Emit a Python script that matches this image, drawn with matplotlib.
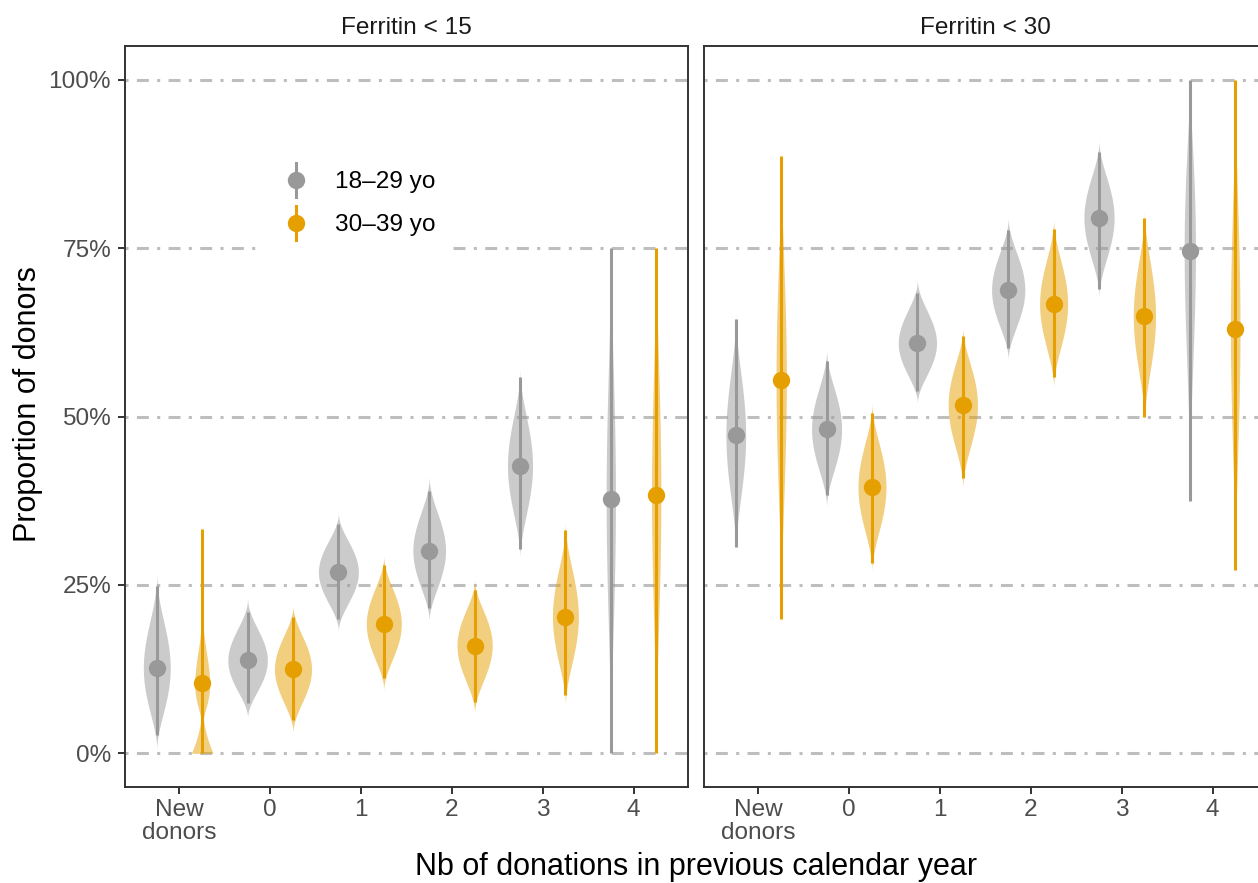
import math
import numpy as np
import matplotlib
matplotlib.use("Agg")
import matplotlib.pyplot as plt
from matplotlib.lines import Line2D
from matplotlib.legend_handler import HandlerBase

plt.rcParams["font.family"] = ["Liberation Sans", "DejaVu Sans"]
plt.rcParams["lines.scale_dashes"] = False

# ---- data (proportions) ----
categories = ["New\ndonors", "0", "1", "2", "3", "4"]
panels = ["Ferritin < 15", "Ferritin < 30"]
groups = ["18–29 yo", "30–39 yo"]

# Ferritin < 15, 18-29 yo
f15_young_est = [0.127, 0.138, 0.269, 0.301, 0.427, 0.378]
f15_young_lo = [0.027, 0.074, 0.200, 0.215, 0.304, 0.000]
f15_young_hi = [0.249, 0.210, 0.341, 0.390, 0.559, 0.750]
f15_young_vlo = [0.005, 0.052, 0.180, 0.195, 0.288, 0.000]
f15_young_vhi = [0.270, 0.232, 0.358, 0.413, 0.572, 0.760]

# Ferritin < 15, 30-39 yo
f15_old_est = [0.104, 0.125, 0.192, 0.160, 0.203, 0.384]
f15_old_lo = [0.000, 0.049, 0.112, 0.076, 0.086, 0.000]
f15_old_hi = [0.333, 0.203, 0.279, 0.242, 0.332, 0.750]
f15_old_vlo = [0.050, 0.029, 0.092, 0.057, 0.070, 0.000]
f15_old_vhi = [0.235, 0.221, 0.295, 0.259, 0.345, 0.760]

# Ferritin < 30, 18-29 yo
f30_young_est = [0.472, 0.481, 0.609, 0.688, 0.795, 0.746]
f30_young_lo = [0.307, 0.383, 0.538, 0.601, 0.690, 0.374]
f30_young_hi = [0.645, 0.583, 0.683, 0.777, 0.892, 1.000]
f30_young_vlo = [0.295, 0.364, 0.519, 0.583, 0.675, 0.360]
f30_young_vhi = [0.655, 0.601, 0.705, 0.797, 0.911, 1.000]

# Ferritin < 30, 30-39 yo
f30_old_est = [0.554, 0.395, 0.517, 0.667, 0.649, 0.630]
f30_old_lo = [0.199, 0.282, 0.409, 0.559, 0.500, 0.272]
f30_old_hi = [0.887, 0.505, 0.620, 0.778, 0.794, 1.000]
f30_old_vlo = [0.200, 0.268, 0.390, 0.541, 0.487, 0.260]
f30_old_vhi = [0.890, 0.522, 0.633, 0.795, 0.807, 1.000]

# share of the main lobe, and extra lobe piled at 0 (weight, height)
f15_old_main = [0.36, 1, 1, 1, 1, 1]
f15_old_zero = [(0.15, 0.075), None, None, None, None, None]

series = {
    (0, 0): (f15_young_est, f15_young_lo, f15_young_hi, f15_young_vlo, f15_young_vhi, None, None),
    (0, 1): (f15_old_est, f15_old_lo, f15_old_hi, f15_old_vlo, f15_old_vhi, f15_old_main, f15_old_zero),
    (1, 0): (f30_young_est, f30_young_lo, f30_young_hi, f30_young_vlo, f30_young_vhi, None, None),
    (1, 1): (f30_old_est, f30_old_lo, f30_old_hi, f30_old_vlo, f30_old_vhi, None, None),
}

colors = ["#999999", "#E69F00"]
dodge = [-0.25, 0.25]
WIDTH = 0.0200  # violin half-width per unit of density (same area for all)


def beta_pdf(t, a, b):
    lb = math.lgamma(a) + math.lgamma(b) - math.lgamma(a + b)
    t = np.clip(t, 1e-9, 1 - 1e-9)
    return np.exp((a - 1) * np.log(t) + (b - 1) * np.log(1 - t) - lb)


def lobe(y, lo, hi, mode, conc=6.5):
    L = hi - lo
    m = min(max((mode - lo) / L, 0.0), 1.0)
    a = 1 + m * (conc - 2)
    b = 1 + (1 - m) * (conc - 2)
    t = (y - lo) / L
    return np.where((t >= 0) & (t <= 1), beta_pdf(t, a, b), 0.0) / L


class PointRangeHandler(HandlerBase):
    def create_artists(self, legend, orig, xdescent, ydescent, width, height,
                       fontsize, trans):
        cx = width / 2 - xdescent
        cy = height / 2 - ydescent
        half = 0.7 * fontsize
        seg = Line2D([cx, cx], [cy - half, cy + half], color=orig.get_color(),
                     lw=orig.get_linewidth(), transform=trans)
        dot = Line2D([cx], [cy], marker="o", ms=orig.get_markersize(), ls="none",
                     color=orig.get_color(), mec="none", transform=trans)
        return [seg, dot]


fig = plt.figure(figsize=(12.58, 8.83), dpi=100)
W, H = 1258, 883
axes = [
    fig.add_axes([125 / W, 1 - 787 / H, 563 / W, 741 / H]),
    fig.add_axes([704 / W, 1 - 787 / H, 563 / W, 741 / H]),
]

xpos = np.arange(1, len(categories) + 1)

for p, ax in enumerate(axes):
    ax.set_axisbelow(True)
    for g in range(2):
        est, lo, hi, vlo, vhi, main, zero = series[(p, g)]
        col = colors[g]
        for i in range(len(categories)):
            x = xpos[i] + dodge[g]
            has_zero = zero is not None and zero[i] is not None
            y0 = 0.0 if has_zero else vlo[i]
            y = np.linspace(y0, vhi[i], 400)
            w_main = main[i] if main is not None else 1.0
            dens = w_main * lobe(y, vlo[i], vhi[i], est[i])
            if has_zero:
                zw, zh = zero[i]
                dens = dens + zw * lobe(y, 0.0, zh, 0.0, conc=4.0)
            half = WIDTH * dens
            ax.fill_betweenx(y, x - half, x + half, color=col, alpha=0.5, lw=0)
        ax.vlines(xpos + dodge[g], lo, hi, color=col, lw=2.2)
        ax.plot(xpos + dodge[g], est, "o", color=col, ms=12.5, mec="none")

    ax.set_xlim(0.4, 6.6)
    ax.set_ylim(-0.05, 1.05)
    ax.set_yticks([0, 0.25, 0.5, 0.75, 1.0])
    ax.set_yticklabels(["0%", "25%", "50%", "75%", "100%"])
    ax.set_xticks(xpos)
    ax.set_xticklabels(categories)
    for lab in ax.get_xticklabels():
        lab.set_linespacing(1.05)
    ax.yaxis.grid(True, color="#BEBEBE", lw=2.2, ls=(0, (2.2, 6.0, 8.6, 6.0)))
    ax.xaxis.grid(False)
    for s in ax.spines.values():
        s.set_color("#333333")
        s.set_linewidth(1.4)
    ax.tick_params(length=5, width=1.4, color="#333333", labelcolor="#4D4D4D",
                   labelsize=17.6)
    ax.tick_params(axis="x", pad=4)
    ax.tick_params(axis="y", pad=5)
    ax.set_title(panels[p], fontsize=17.6, color="#1A1A1A", pad=8.6)

axes[1].tick_params(axis="y", left=False, labelleft=False)

handles = [Line2D([], [], color=colors[g], lw=2.2, marker="o", ms=12.5)
           for g in range(2)]
leg = axes[0].legend(handles, groups, loc="center", bbox_to_anchor=(0.413, 0.787),
                     handler_map={Line2D: PointRangeHandler()}, fontsize=17.6,
                     frameon=True, facecolor="white", edgecolor="none",
                     framealpha=1, fancybox=False, handlelength=1.4,
                     handletextpad=0.9, borderpad=0.7, labelspacing=0.85)

fig.text(696 / W, 8 / H, "Nb of donations in previous calendar year",
         ha="center", va="baseline", fontsize=22, color="black")
fig.text(28 / W, 1 - 404 / H, "Proportion of donors", rotation=90,
         ha="center", va="center", fontsize=22, color="black")

fig.savefig("out.png", dpi=100, facecolor="white")
